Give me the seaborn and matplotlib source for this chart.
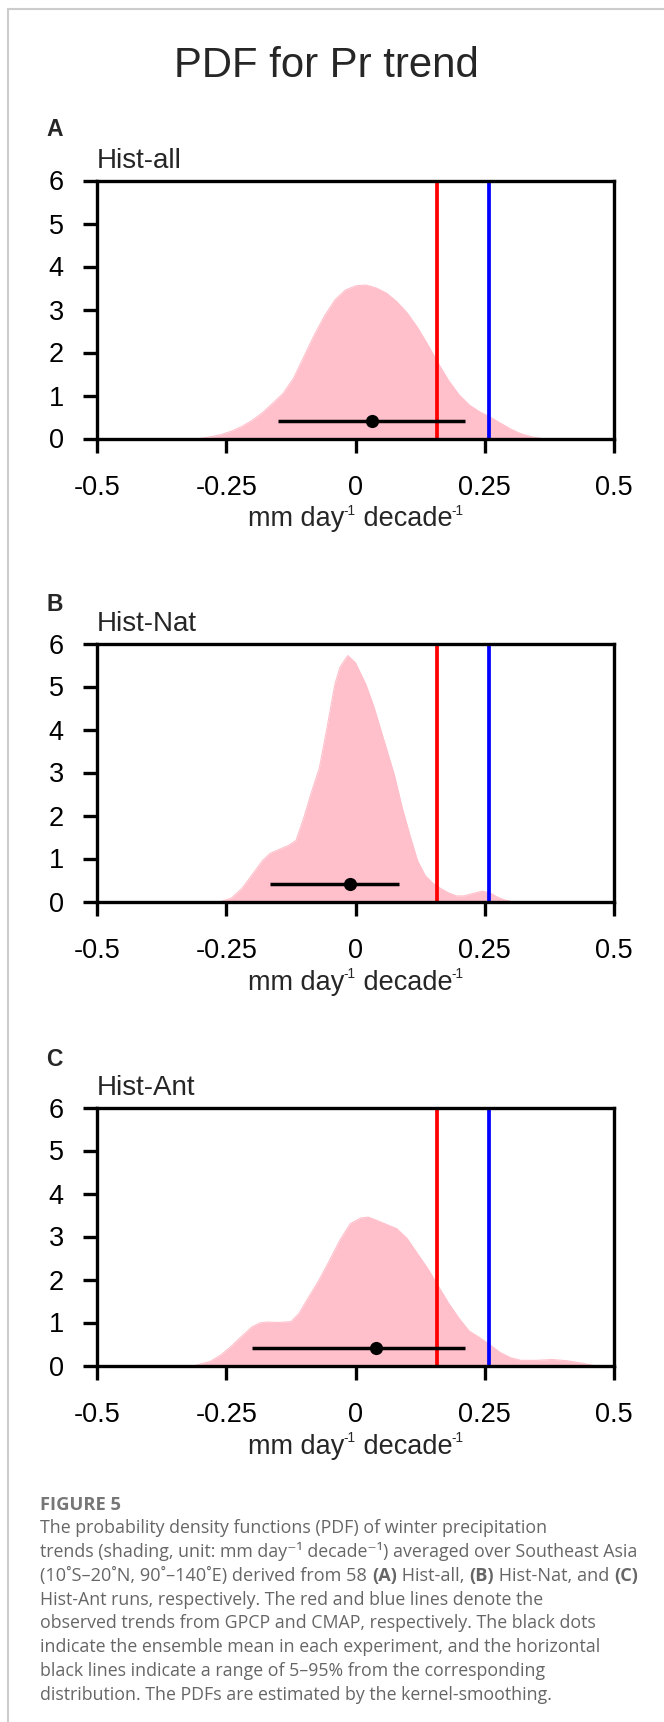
import matplotlib
matplotlib.use("Agg")
import pandas as pd
import matplotlib.pyplot as plt
import seaborn as sns
from matplotlib import font_manager
from matplotlib.lines import Line2D

sns.set_theme(style="ticks")


def pick_font(names):
    # first installed family from the list
    for name in names:
        try:
            font_manager.findfont(font_manager.FontProperties(family=name),
                                  fallback_to_default=False)
            return name
        except ValueError:
            pass
    return "DejaVu Sans"


PLOT_FONT = pick_font(["Liberation Sans", "Arial"])
CAP_FONT = pick_font(["Open Sans", "Lato"])

plt.rcParams.update({
    "font.family": [PLOT_FONT, "DejaVu Sans"],
    "axes.linewidth": 2.4,
    "axes.edgecolor": "black",
})

# ---- data ----
x_ticks = [-0.5, -0.25, 0, 0.25, 0.5]
x_tick_labels = ["-0.5", "-0.25", "0", "0.25", "0.5"]
y_ticks = [0, 1, 2, 3, 4, 5, 6]

panel_letters = ["A", "B", "C"]
panel_names = ["Hist-all", "Hist-Nat", "Hist-Ant"]

obs_gpcp = 0.158   # red line
obs_cmap = 0.258   # blue line

ens_mean = [0.031, -0.01, 0.04]
range_low = [-0.149, -0.165, -0.20]
range_high = [0.212, 0.085, 0.212]
marker_level = 0.4

pdf_all_x = [-0.30, -0.28, -0.26, -0.24, -0.22, -0.20, -0.18, -0.16, -0.14,
             -0.12, -0.10, -0.08, -0.06, -0.04, -0.02, 0.00, 0.02, 0.04,
             0.06, 0.08, 0.10, 0.12, 0.14, 0.16, 0.18, 0.20, 0.22, 0.24,
             0.26, 0.28, 0.30, 0.32, 0.34, 0.36]
pdf_all_y = [0.00, 0.04, 0.09, 0.17, 0.28, 0.42, 0.60, 0.82, 1.05,
             1.40, 1.90, 2.40, 2.85, 3.22, 3.45, 3.55, 3.57, 3.50,
             3.38, 3.18, 2.92, 2.58, 2.18, 1.75, 1.35, 1.02, 0.78, 0.62,
             0.50, 0.36, 0.22, 0.11, 0.04, 0.00]

pdf_nat_x = [-0.26, -0.24, -0.22, -0.20, -0.18, -0.165, -0.15, -0.13, -0.115,
             -0.10, -0.085, -0.07, -0.055, -0.04, -0.03, -0.015, 0.00, 0.02,
             0.035, 0.05, 0.065, 0.075, 0.09, 0.105, 0.12, 0.135, 0.15, 0.165,
             0.18, 0.195, 0.21, 0.225, 0.245, 0.26, 0.275, 0.29, 0.30]
pdf_nat_y = [0.00, 0.08, 0.30, 0.62, 0.95, 1.12, 1.20, 1.30, 1.42,
             1.95, 2.55, 3.10, 4.05, 5.05, 5.45, 5.72, 5.55, 5.05,
             4.55, 3.95, 3.35, 2.95, 2.20, 1.55, 0.95, 0.60, 0.42, 0.30,
             0.20, 0.13, 0.13, 0.18, 0.24, 0.20, 0.10, 0.03, 0.00]

pdf_ant_x = [-0.31, -0.28, -0.26, -0.24, -0.22, -0.20, -0.185, -0.17, -0.15,
             -0.125, -0.11, -0.09, -0.07, -0.05, -0.03, -0.01, 0.01, 0.025,
             0.04, 0.06, 0.08, 0.10, 0.12, 0.14, 0.16, 0.18, 0.20, 0.22,
             0.24, 0.26, 0.28, 0.30, 0.32, 0.35, 0.38, 0.41, 0.44, 0.46]
pdf_ant_y = [0.00, 0.10, 0.25, 0.45, 0.68, 0.90, 0.99, 1.01, 1.00,
             1.02, 1.20, 1.60, 2.00, 2.45, 2.92, 3.30, 3.43, 3.45,
             3.38, 3.28, 3.18, 2.95, 2.60, 2.25, 1.85, 1.45, 1.10, 0.80,
             0.65, 0.48, 0.30, 0.18, 0.12, 0.12, 0.14, 0.11, 0.05, 0.00]

pdf_x = [pdf_all_x, pdf_nat_x, pdf_ant_x]
pdf_y = [pdf_all_y, pdf_nat_y, pdf_ant_y]

# unit label: (text, is_superscript)
unit_pieces = [("mm day", False), ("-1", True), (" decade", False), ("-1", True)]

caption_lines = [
    "The probability density functions (PDF) of winter precipitation",
    "trends (shading, unit: mm day\u207b\u00b9 decade\u207b\u00b9) averaged over Southeast Asia",
    None,  # mixed bold line, built below
    "Hist-Ant runs, respectively. The red and blue lines denote the",
    "observed trends from GPCP and CMAP, respectively. The black dots",
    "indicate the ensemble mean in each experiment, and the horizontal",
    "black lines indicate a range of 5\u201395% from the corresponding",
    "distribution. The PDFs are estimated by the kernel-smoothing.",
]
caption_mixed = [
    ("(10\u02daS\u201320\u02daN, 90\u02da\u2013140\u02daE) derived from 58 ", "normal"),
    ("(A)", "bold"), (" Hist-all, ", "normal"),
    ("(B)", "bold"), (" Hist-Nat, and ", "normal"),
    ("(C)", "bold"),
]

# ---- figure ----
W, H = 664, 1722
fig = plt.figure(figsize=(W / 100, H / 100), dpi=100)
fig.patch.set_facecolor("white")
renderer = fig.canvas.get_renderer()


def fit_width(t, target_px):
    # scale the font so the text spans target_px
    w = t.get_window_extent(renderer=renderer).width
    t.set_fontsize(t.get_fontsize() * target_px / w)


def text_width(s, size, **kw):
    p = fig.text(0, 0, s, fontsize=size, **kw)
    w = p.get_window_extent(renderer=renderer).width
    p.remove()
    return w


def unit_label(cx_px, base_px, target_px, size=20.0):
    # 'mm day-1 decade-1' with small raised exponents, centred on cx_px
    sup_scale, raise_px = 0.5, 0.42
    widths = [text_width(s, size * (sup_scale if sup else 1)) for s, sup in unit_pieces]
    k = target_px / sum(widths)
    size *= k
    x = cx_px - target_px / 2
    for (s, sup), w in zip(unit_pieces, widths):
        fs = size * (sup_scale if sup else 1)
        dy = raise_px * size * 100 / 72 if sup else 0
        fig.text(x / W, 1 - (base_px - dy) / H, s, ha="left", va="baseline",
                 fontsize=fs)
        x += w * k


ax_left_px, ax_w_px, ax_hpx = 97, 517, 258
ax_tops = [180.5, 643.5, 1107.5]
letter_tops = [118, 593, 1048]

for i in range(3):
    ax = fig.add_axes([ax_left_px / W, 1 - (ax_tops[i] + ax_hpx) / H,
                       ax_w_px / W, ax_hpx / H])
    df = pd.DataFrame({"trend": pdf_x[i], "density": pdf_y[i]})
    ax.fill_between(df["trend"], 0, df["density"], color="#FFC0CB", lw=0, zorder=1)
    sns.lineplot(data=df, x="trend", y="density", color="#FFC0CB", lw=0.8,
                 ax=ax, zorder=1, sort=False)

    ax.axvline(obs_gpcp, color="#FF0000", lw=2.7, zorder=2)
    ax.axvline(obs_cmap, color="#0000FF", lw=2.7, zorder=2)

    ax.plot([range_low[i], range_high[i]], [marker_level, marker_level],
            color="black", lw=2.5, solid_capstyle="butt", zorder=3)
    sns.scatterplot(x=[ens_mean[i]], y=[marker_level], color="black", s=90,
                    edgecolor="black", linewidth=0, ax=ax, zorder=4)

    ax.set_xlim(-0.5, 0.5)
    ax.set_ylim(0, 6)
    ax.set_xticks(x_ticks)
    ax.set_xticklabels(x_tick_labels)
    ax.set_yticks(y_ticks)
    ax.tick_params(axis="x", direction="out", length=10, width=2.4, pad=16.5,
                   labelsize=19.5, colors="black")
    ax.tick_params(axis="y", direction="out", length=10, width=2.4, pad=14,
                   labelsize=19.5, colors="black")
    ax.set_xlabel("")
    ax.set_ylabel("")
    for sp in ax.spines.values():
        sp.set_visible(True)
        sp.set_linewidth(2.4)

    unit_label(ax_left_px + ax_w_px / 2, ax_tops[i] + ax_hpx + 88, 216)

    nm = ax.text(0.0, 12.4 / ax_hpx + 1, panel_names[i], transform=ax.transAxes,
                 ha="left", va="baseline", fontsize=20)
    if i == 0:
        fit_width(nm, 85)
        name_size = nm.get_fontsize()
    else:
        nm.set_fontsize(name_size)
    fig.text(46.5 / W, 1 - letter_tops[i] / H, panel_letters[i],
             ha="left", va="top", fontsize=16.5, fontweight="bold")

title = fig.text(326 / W, 1 - 76.7 / H, "PDF for Pr trend", ha="center",
                 va="baseline", fontsize=30)
fit_width(title, 305)

# page-card border
fig.add_artist(Line2D([8 / W, 1], [1 - 9 / H, 1 - 9 / H], color="#cccccc", lw=1.5))
fig.add_artist(Line2D([8 / W, 8 / W], [0, 1 - 9 / H], color="#cccccc", lw=1.5))

# caption
cap_x = 40.5 / W
cap_family = [CAP_FONT, "DejaVu Sans"]
cap_color = "#666666"
fig_lbl = fig.text(cap_x, 1 - 1510 / H, "FIGURE 5", ha="left", va="baseline",
                   fontsize=13.7, fontweight="bold", color="#777777", family=cap_family)
fit_width(fig_lbl, 81)

base0, step = 1533, 23.85
cap_target = 637 - 40.5

# regular lines: size taken from the widest line
cap_size = 10 * cap_target / text_width(caption_lines[1], 10, family=cap_family)

# mixed line: measure pieces at size 10
total = sum(text_width(p, 10, fontweight=wt, family=cap_family) for p, wt in caption_mixed)
mixed_size = 10 * cap_target / total

for k, line in enumerate(caption_lines):
    y = 1 - (base0 + k * step) / H
    if line is not None:
        fig.text(cap_x, y, line, ha="left", va="baseline", fontsize=cap_size,
                 color=cap_color, family=cap_family)
    else:
        x = cap_x
        for piece, weight in caption_mixed:
            t = fig.text(x, y, piece, ha="left", va="baseline", fontsize=mixed_size,
                         color=cap_color, fontweight=weight, family=cap_family)
            bb = t.get_window_extent(renderer=renderer)
            x = bb.x1 / W

fig.savefig("out.png", dpi=100, facecolor="white")
